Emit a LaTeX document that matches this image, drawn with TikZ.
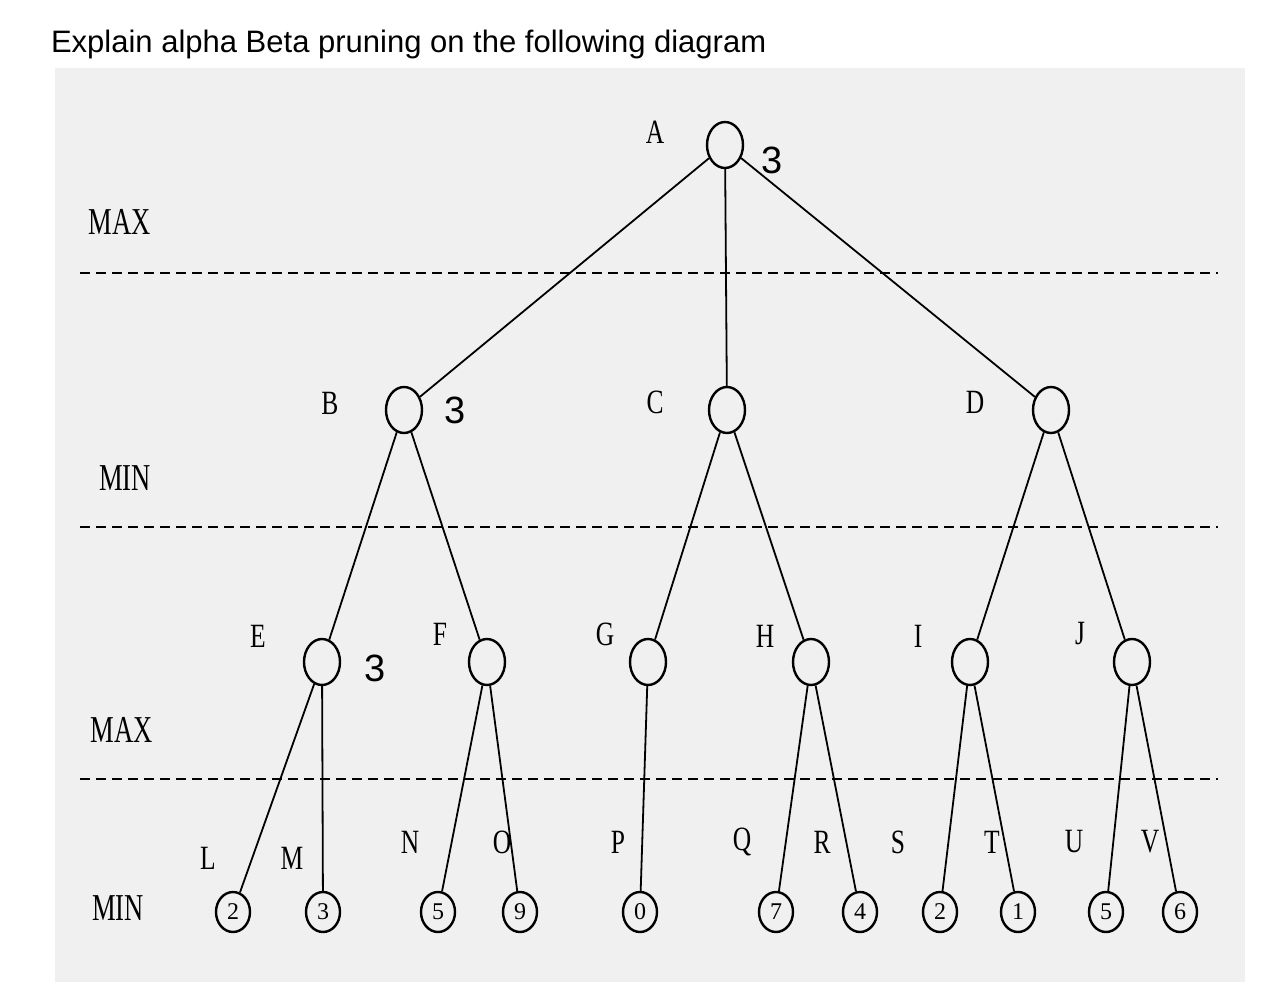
\documentclass[tikz,border=0pt]{standalone}
\usepackage{fontspec}
\usetikzlibrary{shapes.geometric}
\setmainfont{Liberation Serif}
\newfontfamily\sansf{Liberation Sans}
\begin{document}
\begin{tikzpicture}[x=0.5pt,y=-0.5pt,
  inner/.style={draw,line width=1.2pt,ellipse,minimum width=18pt,minimum height=23pt,inner sep=0pt},
  leaf/.style={draw,line width=1.2pt,ellipse,minimum width=17pt,minimum height=20pt,inner sep=0pt,font=\fontsize{12}{12}\selectfont},
  lab/.style={font=\fontsize{17}{17}\selectfont,xscale=0.75},
  lvl/.style={font=\fontsize{19}{19}\selectfont,xscale=0.7},
  val/.style={font=\sansf\fontsize{19}{19}\selectfont},
  sep/.style={dashed,line width=1pt,dash pattern=on 5pt off 3pt},
  edge/.style={line width=0.9pt}]
\useasboundingbox (0,0) rectangle (1280,994);
\fill[white] (0,0) rectangle (1280,994);
\fill[gray!12] (55,68) rectangle (1245,982);
\node[anchor=west,font=\sansf\fontsize{15.5}{15.5}\selectfont] (title) at (44,44) {Explain alpha Beta pruning on the following diagram};
\foreach \y in {273,527,779} \draw[sep] (80,\y) -- (1218,\y);
\node[lvl] (l1) at (120,222) {MAX};
\node[lvl] (l2) at (125,478) {MIN};
\node[lvl] (l3) at (122,730) {MAX};
\node[lvl] (l4) at (118,908) {MIN};
\foreach \n/\x/\y in {A/725/145,B/404/410,C/727/410,D/1051/410,E/322/662,F/487/662,G/648/662,H/811/662,I/970/662,J/1132/662}
  \node[inner] (\n) at (\x,\y) {};
\foreach \n/\x/\v in {L/233/2,M/323/3,N/438/5,O/520/9,P/640/0,Q/776/7,R/860/4,S/940/2,T/1018/1,U/1106/5,V/1180/6}
  \node[leaf] (\n) at (\x,912) {\v};
\foreach \a/\b in {A/B,A/C,A/D,B/E,B/F,C/G,C/H,D/I,D/J,E/L,E/M,F/N,F/O,G/P,H/Q,H/R,I/S,I/T,J/U,J/V}
  \draw[edge] (\a) -- (\b);
\foreach \t/\x/\y in {A/655/132,B/330/403,C/655/402,D/975/402,E/258/636,F/440/634,G/605/634,H/765/636,I/918/636,J/1080/634,L/208/858,M/292/858,N/410/842,O/502/842,P/618/842,Q/742/842,R/822/842,S/898/842,T/992/842,U/1074/842,V/1150/842}
  \node[lab] (t\t) at (\x,\y) {\t};
\node[val] (vA) at (772,160) {3};
\node[val] (vB) at (455,410) {3};
\node[val] (vE) at (375,668) {3};
\end{tikzpicture}
\end{document}
